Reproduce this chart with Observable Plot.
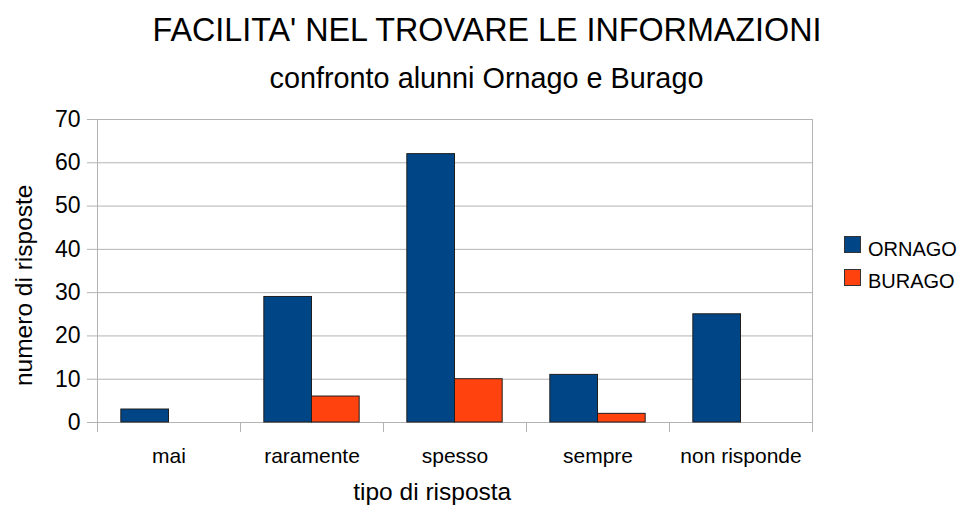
<!DOCTYPE html>
<html>
<head>
<meta charset="utf-8">
<script src="https://cdn.jsdelivr.net/npm/d3@7"></script>
<script src="https://cdn.jsdelivr.net/npm/@observablehq/plot@0.6"></script>
<style>
  html, body { margin: 0; padding: 0; background: #fff; }
  #wrap { position: relative; width: 961px; height: 506px; overflow: hidden; font-family: "Liberation Sans", Arial, sans-serif; color: #000; }
  .t { position: absolute; white-space: nowrap; line-height: 1; }
  #title { left: 0; width: 974px; text-align: center; top: 14.4px; font-size: 32.3px; }
  #subtitle { left: 0; width: 973px; text-align: center; top: 64px; font-size: 28.8px; }
  #chart { position: absolute; left: 0; top: 100px; }
  .sw { position: absolute; width: 15px; height: 15px; border: 1px solid #333; left: 844px; }
  .lt { position: absolute; left: 868px; font-size: 20px; line-height: 1; white-space: nowrap; }
</style>
</head>
<body>
<div id="wrap">
  <div id="title" class="t"></div>
  <div id="subtitle" class="t"></div>
  <div id="chart"></div>
  <div id="legend"></div>
</div>
<script>
const titleText = "FACILITA' NEL TROVARE LE INFORMAZIONI";
const subtitleText = "confronto alunni Ornago e Burago";
const xTitle = "tipo di risposta";
const yTitle = "numero di risposte";
const categories = ["mai", "raramente", "spesso", "sempre", "non risponde"];
const series = ["ORNAGO", "BURAGO"];
const ornago = [3, 29, 62, 11, 25];
const burago = [0, 6, 10, 2, 0];
const colors = ["#004586", "#ff420e"];
const yTicks = [0, 10, 20, 30, 40, 50, 60, 70];

document.getElementById("title").textContent = titleText;
document.getElementById("subtitle").textContent = subtitleText;

const values = [ornago, burago];
const rows = [];
series.forEach((s, si) => {
  values[si].forEach((v, i) => {
    if (v > 0) rows.push({cat: categories[i], series: s, value: v, x1: i - 1/3 + si/3, x2: i + si/3});
  });
});
const centers = categories.map((c, i) => i);
const bounds = d3.range(categories.length + 1).map(i => i - 0.5);
const ends = [bounds[0], bounds[bounds.length - 1]];

const gridColor = "#b3b3b3";

const chart = Plot.plot({
  width: 961,
  height: 406,
  marginLeft: 97,
  marginRight: 149,
  marginTop: 19,
  marginBottom: 84,
  style: {fontFamily: "'Liberation Sans', Arial, sans-serif", background: "#fff", color: "#000"},
  x: {type: "linear", domain: [bounds[0], bounds[bounds.length - 1]]},
  y: {domain: [0, 70]},
  color: {domain: series, range: colors},
  marks: [
    Plot.gridY(yTicks, {stroke: gridColor, strokeOpacity: 1}),
    Plot.axisY(yTicks, {tickSize: 10, tickPadding: 7, stroke: gridColor, fill: "#000", fontSize: 23, label: null, tickFormat: d => d}),
    Plot.ruleX(ends, {y1: 0, y2: 70, stroke: gridColor}),
    Plot.axisX(bounds, {tickSize: 10, stroke: gridColor, tickFormat: () => "", label: null}),
    Plot.axisX(centers, {tickSize: 0, tickPadding: 26, fontSize: 21, fill: "#000", tickFormat: i => categories[i], label: null}),
    Plot.rectY(rows, {x1: "x1", x2: "x2", y: "value", fill: "series", stroke: "#1e1e1e", strokeWidth: 1}),
    Plot.text([xTitle], {text: d => d, frameAnchor: "bottom", textAnchor: "middle", lineAnchor: "bottom", dx: -22.8, dy: 77, fontSize: 24.5, fill: "#000"}),
    Plot.text([yTitle], {text: d => d, frameAnchor: "left", textAnchor: "middle", rotate: -90, lineAnchor: "bottom", dx: -65.3, dy: 14.3, fontSize: 24.5, fill: "#000"})
  ]
});
document.getElementById("chart").appendChild(chart);

const legend = document.getElementById("legend");
const swTops = [236, 269];
const txtTops = [238.8, 271.4];
series.forEach((s, si) => {
  const sw = document.createElement("div");
  sw.className = "sw";
  sw.style.top = swTops[si] + "px";
  sw.style.background = colors[si];
  legend.appendChild(sw);
  const t = document.createElement("div");
  t.className = "lt";
  t.style.top = txtTops[si] + "px";
  t.textContent = s;
  legend.appendChild(t);
});
</script>
</body>
</html>
